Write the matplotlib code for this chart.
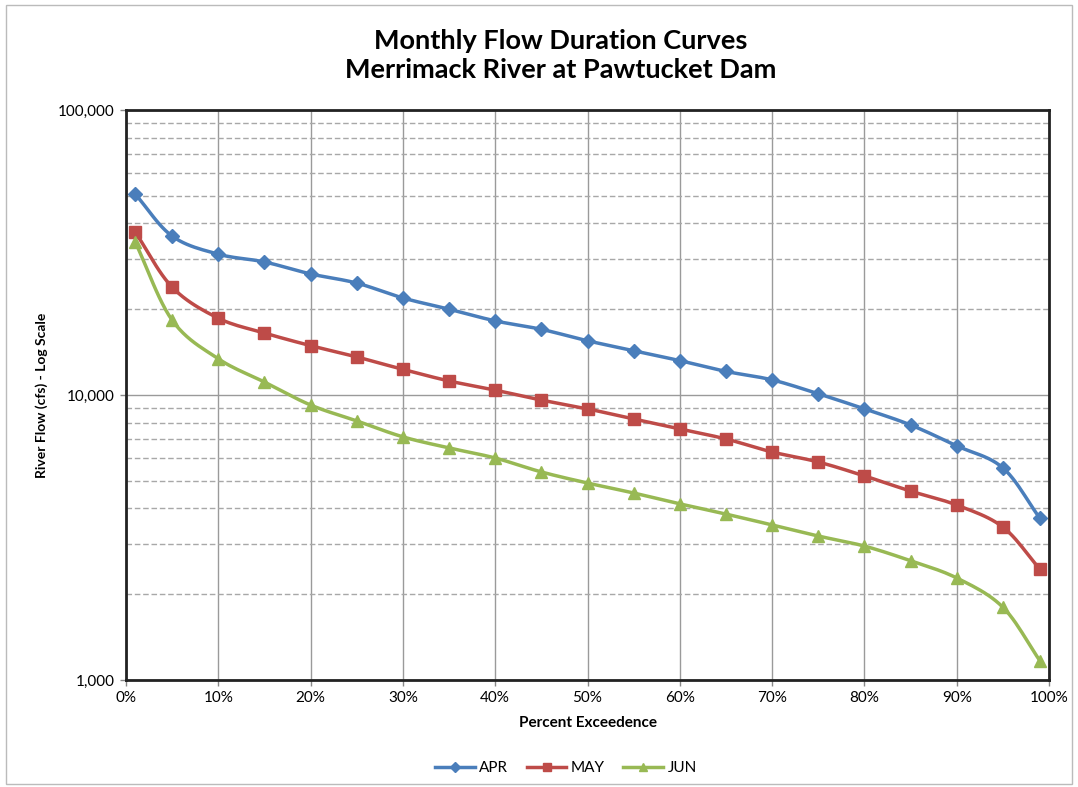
# monthly flow duration curves - log scale
import numpy as np
import matplotlib
matplotlib.use('Agg')
import matplotlib.pyplot as plt
from matplotlib.ticker import FixedLocator, FuncFormatter, NullFormatter

plt.rcParams['font.family'] = ['Lato', 'DejaVu Sans']

pct = [1, 5, 10, 15, 20, 25, 30, 35, 40, 45, 50, 55, 60, 65, 70, 75, 80, 85, 90, 95, 99]
apr = [50700, 36100, 31200, 29300, 26600, 24700, 21900, 20000, 18200, 17000, 15500,
       14300, 13200, 12100, 11300, 10100, 8940, 7850, 6630, 5550, 3700]
may = [37300, 23900, 18600, 16500, 14900, 13600, 12300, 11200, 10400, 9600, 8940,
       8240, 7600, 7010, 6310, 5820, 5200, 4600, 4110, 3440, 2450]
jun = [34400, 18300, 13400, 11100, 9220, 8110, 7130, 6520, 6010, 5370, 4910,
       4530, 4150, 3820, 3500, 3200, 2950, 2620, 2280, 1800, 1170]

series = [('APR', apr, '#4A7EBB', 'D', 7),
          ('MAY', may, '#BE4B48', 's', 9),
          ('JUN', jun, '#98B954', '^', 9)]


def smooth(x, y, n=12):
    # catmull-rom through the points (log y), like excel's smoothed line
    x = np.asarray(x, float)
    y = np.log10(np.asarray(y, float))
    px = np.concatenate([[2 * x[0] - x[1]], x, [2 * x[-1] - x[-2]]])
    py = np.concatenate([[2 * y[0] - y[1]], y, [2 * y[-1] - y[-2]]])
    xs, ys = [], []
    t = np.linspace(0, 1, n, endpoint=False)
    for i in range(1, len(px) - 2):
        for p, out in ((px, xs), (py, ys)):
            p0, p1, p2, p3 = p[i - 1], p[i], p[i + 1], p[i + 2]
            out.extend(0.5 * (2 * p1 + (-p0 + p2) * t +
                              (2 * p0 - 5 * p1 + 4 * p2 - p3) * t ** 2 +
                              (-p0 + 3 * p1 - 3 * p2 + p3) * t ** 3))
    xs.append(x[-1])
    ys.append(y[-1])
    return np.array(xs), 10 ** np.array(ys)


fig = plt.figure(figsize=(10.78, 7.87), dpi=100)
ax = fig.add_axes([0.1169, 0.136, 0.8562, 0.7242])

for name, vals, col, mk, ms in series:
    sx, sy = smooth(pct, vals)
    ax.plot(sx, sy, color=col, lw=2.5, zorder=3)
    ax.plot(pct, vals, ls='none', marker=mk, ms=ms, color=col, zorder=4)
    ax.plot([], [], color=col, lw=2.5, marker=mk, ms=ms * 0.7, label=name)

ax.set_yscale('log')
ax.set_ylim(1000, 100000)
ax.set_xlim(0, 100)
ax.set_xticks(range(0, 101, 10))
ax.xaxis.set_major_formatter(FuncFormatter(lambda v, p: '%d%%' % v))
ax.yaxis.set_major_locator(FixedLocator([1000, 10000, 100000]))
ax.yaxis.set_major_formatter(FuncFormatter(lambda v, p: '{:,.0f}'.format(v)))
ax.yaxis.set_minor_locator(FixedLocator([k * 10 ** e for e in (3, 4) for k in range(2, 10)]))
ax.yaxis.set_minor_formatter(NullFormatter())

ax.grid(which='major', axis='both', color='#9a9a9a', lw=1)
ax.grid(which='minor', axis='y', color='#a8a8a8', lw=1, ls=(0, (4, 2)))
ax.set_axisbelow(True)
ax.tick_params(which='major', length=4, width=1, color='#888888', labelsize=11, pad=4)
ax.tick_params(which='minor', length=0)
for s in ax.spines.values():
    s.set_linewidth(2)
    s.set_color('#222222')

ax.set_xlabel('Percent Exceedence', fontsize=11, fontweight='bold', labelpad=8)
ax.set_ylabel('River Flow (cfs) - Log Scale', fontsize=10, fontweight='bold', labelpad=7)

fig.text(0.52, 0.93, 'Monthly Flow Duration Curves\nMerrimack River at Pawtucket Dam',
         ha='center', va='center', fontsize=19.5, fontweight='bold', linespacing=1.25)

fig.legend(loc='center', bbox_to_anchor=(0.525, 0.024), ncol=3, frameon=False,
           fontsize=11, handlelength=2.6, columnspacing=1.2, handletextpad=0.3)

fig.patches.append(plt.Rectangle((0.006, 0.004), 0.988, 0.99, transform=fig.transFigure,
                                 fill=False, ec='#bbbbbb', lw=1))

fig.savefig('out.png', dpi=100)
